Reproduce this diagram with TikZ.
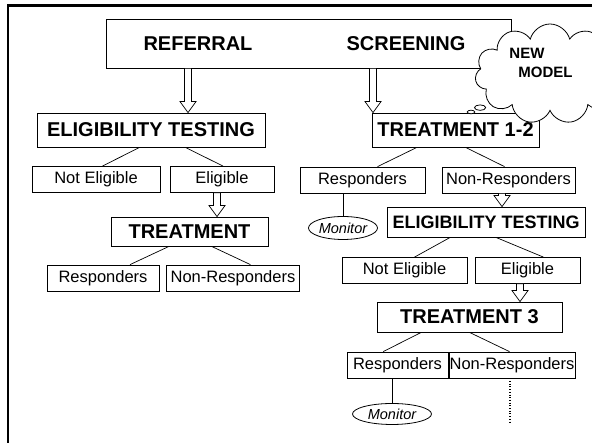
\documentclass[tikz,border=0pt]{standalone}
\usepackage{fontspec}
\setmainfont{Liberation Sans}
\usetikzlibrary{calc, shapes.geometric, shapes.callouts}

% hollow block arrow: x position, from node, to node
\newcommand{\hollowarrow}[3]{%
  \draw[arrowline] let \p1=(#2.south), \p2=(#3.north) in
    ({#1pt-3.5pt},\y1) -- ({#1pt-3.5pt},{\y2+11pt}) -- ({#1pt-8pt},{\y2+11pt}) -- ({#1pt},\y2)
    -- ({#1pt+8pt},{\y2+11pt}) -- ({#1pt+3.5pt},{\y2+11pt}) -- ({#1pt+3.5pt},\y1) -- cycle;}
% thin branch line between two boxes
\newcommand{\branch}[4]{%
  \draw[link] ($(#1.south west)!#2!(#1.south east)$) -- ($(#3.north west)!#4!(#3.north east)$);}

\begin{document}
\begin{tikzpicture}[x=1pt, y=1pt,
    title/.style={font=\fontsize{20}{22}\selectfont\bfseries},
    box/.style={draw, line width=0.8pt, inner sep=0pt, title},
    leaf/.style={draw, line width=0.8pt, inner sep=0pt, minimum height=26pt, font=\fontsize{16.5}{18}\selectfont},
    monitor/.style={draw, ellipse, line width=0.8pt, inner sep=0pt, font=\fontsize{14.5}{16}\selectfont\itshape},
    link/.style={line width=0.7pt},
    arrowline/.style={draw, fill=white, line width=0.7pt}]
  \path[use as bounding box, clip] (0,0) rectangle (592,443);
  \draw[line width=2.8pt] (8,-10) -- (8,437.5) -- (600,437.5);

  % top
  \node[box, minimum width=405pt, minimum height=49pt] (top) at (308.5,399.5) {};
  \node[title] (referral) at (198,399.5) {REFERRAL};
  \node[title] (screening) at (406,399.5) {SCREENING};

  % left column
  \node[box, minimum width=228pt, minimum height=34pt] (eltestL) at (151,313) {ELIGIBILITY TESTING};
  \node[leaf, minimum width=128pt] (notelL) at (96,263.5) {Not Eligible};
  \node[leaf, minimum width=104pt] (eligL) at (222,263.5) {Eligible};
  \node[box, minimum width=157pt, minimum height=29pt] (treatL) at (189.5,211.5) {TREATMENT};
  \node[leaf, minimum width=112pt] (respL) at (103,165) {Responders};
  \node[leaf, minimum width=133pt] (nonrespL) at (233,165) {Non-Responders};

  % right column
  \node[box, minimum width=167pt, minimum height=34pt] (treat12) at (455.5,313) {TREATMENT 1-2};
  \node[leaf, minimum width=125pt] (respR) at (362.5,263) {Responders};
  \node[leaf, minimum width=133pt] (nonrespR) at (508.5,263) {Non-Responders};
  \node[monitor, minimum width=69pt, minimum height=23pt] (monA) at (343,215) {Monitor};
  \node[box, minimum width=198pt, minimum height=30pt, font=\fontsize{18}{20}\selectfont\bfseries] (eltestR) at (486,221) {ELIGIBILITY TESTING};
  \node[leaf, minimum width=125pt] (notelR) at (404.5,172.5) {Not Eligible};
  \node[leaf, minimum width=105pt] (eligR) at (527.5,172.5) {Eligible};
  \node[box, minimum width=185pt, minimum height=30pt] (treat3) at (469.5,126) {TREATMENT 3};
  \node[leaf, minimum width=101pt] (respR3) at (397.5,78) {Responders};
  \node[leaf, minimum width=126pt] (nonrespR3) at (512,78) {Non-Responders};
  \node[monitor, minimum width=79pt, minimum height=21pt] (monB) at (392,29) {Monitor};
  \coordinate (more) at (510,21);

  % block arrows
  \hollowarrow{188}{top}{eltestL}
  \hollowarrow{373}{top}{treat12}
  \hollowarrow{217}{eligL}{treatL}
  \hollowarrow{502}{nonrespR}{eltestR}
  \hollowarrow{520}{eligR}{treat3}

  % branches
  \branch{eltestL}{0.45}{notelL}{0.55}
  \branch{eltestL}{0.65}{eligL}{0.51}
  \branch{treatL}{0.37}{respL}{0.74}
  \branch{treatL}{0.64}{nonrespL}{0.63}
  \branch{treat12}{0.27}{respR}{0.62}
  \branch{treat12}{0.56}{nonrespR}{0.47}
  \branch{eltestR}{0.32}{notelR}{0.58}
  \branch{eltestR}{0.55}{eligR}{0.65}
  \branch{treat3}{0.24}{respR3}{0.36}
  \branch{treat3}{0.50}{nonrespR3}{0.48}
  \draw[link] (respR.south -| monA.north) -- (monA.north);
  \draw[link] (respR3.south -| monB.north) -- (monB.north);
  \draw[link, dotted, line width=1.2pt] (nonrespR3.south -| more) -- (more);

  % thought cloud
  \node[cloud callout, draw, fill=white, line width=0.8pt, cloud puffs=11, aspect=1.5,
        minimum width=150pt, minimum height=100pt, inner sep=0pt,
        callout absolute pointer={(471,331)}, callout pointer start size=.1 of callout,
        callout pointer end size=.05 of callout] (cloud) at (550,369) {};
  \node[align=left, font=\fontsize{15}{19}\selectfont\bfseries] (newmodel) at (541,380.5) {NEW\\\hspace*{9pt}MODEL};
\end{tikzpicture}
\end{document}
